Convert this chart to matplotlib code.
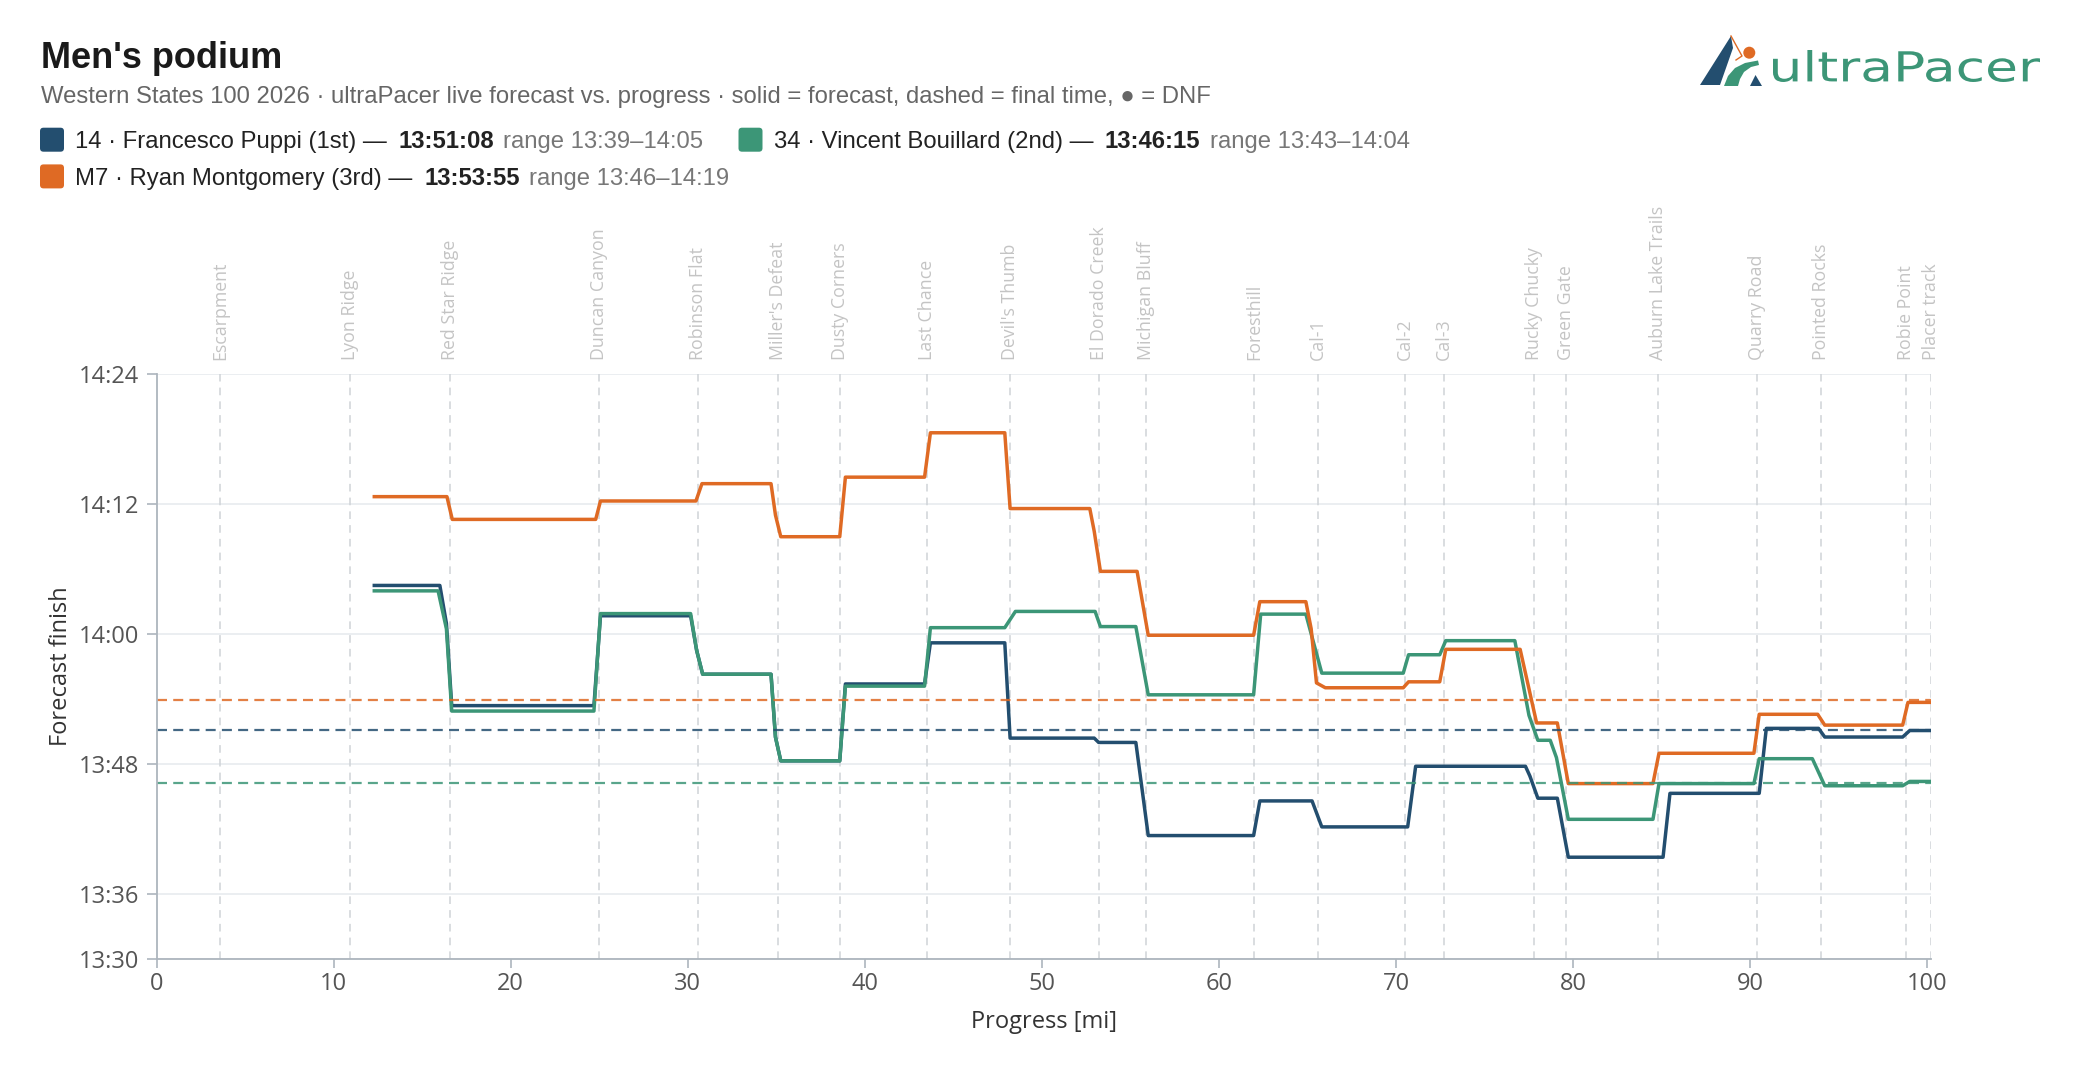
import matplotlib
matplotlib.use("Agg")
import matplotlib.pyplot as plt
from matplotlib.patches import Polygon, Circle, FancyBboxPatch, PathPatch
from matplotlib.textpath import TextPath
from matplotlib.font_manager import FontProperties
from matplotlib.transforms import Affine2D
from matplotlib.ticker import FixedLocator, FuncFormatter

# --------------------------------
# DATA
# --------------------------------
station_names = [
    "Escarpment", "Lyon Ridge", "Red Star Ridge", "Duncan Canyon", "Robinson Flat",
    "Miller's Defeat", "Dusty Corners", "Last Chance", "Devil's Thumb", "El Dorado Creek",
    "Michigan Bluff", "Foresthill", "Cal-1", "Cal-2", "Cal-3", "Rucky Chucky",
    "Green Gate", "Auburn Lake Trails", "Quarry Road", "Pointed Rocks", "Robie Point",
    "Placer track",
]
station_mi = [3.6, 10.9, 16.6, 25.0, 30.6, 35.1, 38.6, 43.5, 48.2, 53.2, 55.9, 62.0,
              65.6, 70.5, 72.7, 77.8, 79.6, 84.8, 90.4, 94.0, 98.8, 100.2]

runner_bibs = ["14", "34", "M7"]
runner_names = ["Francesco Puppi (1st)", "Vincent Bouillard (2nd)", "Ryan Montgomery (3rd)"]
runner_finals = ["13:51:08", "13:46:15", "13:53:55"]
runner_ranges = ["13:39\u201314:05", "13:43\u201314:04", "13:46\u201314:19"]
runner_colours = ["#234e6f", "#3c9677", "#df6a24"]

# forecast finish, minutes after midnight, against progress in miles
puppi_mi = [12.2, 16.0, 16.37, 16.67, 24.7, 25.07, 30.16, 30.5, 30.84, 34.7,
            34.95, 35.25, 38.58, 38.9, 43.37, 43.7, 47.9, 48.2, 52.95, 53.2,
            55.3, 56.0, 61.95, 62.3, 65.25, 65.8, 70.65, 71.1, 77.3, 77.55,
            78.0, 79.1, 79.72, 85.07, 85.46, 90.5, 90.9, 93.85, 94.2, 98.6,
            99.0, 100.2]
puppi_fc = [844.5, 844.5, 841.0, 833.4, 833.4, 841.7, 841.7, 838.5, 836.3, 836.3,
            830.5, 828.3, 828.3, 835.4, 835.4, 839.2, 839.2, 830.4, 830.4, 830.0,
            830.0, 821.4, 821.4, 824.6, 824.6, 822.2, 822.2, 827.8, 827.8, 826.9,
            824.85, 824.85, 819.4, 819.4, 825.3, 825.3, 831.3, 831.3, 830.5, 830.5,
            831.1, 831.1]

bouillard_mi = [12.2, 15.9, 16.37, 16.67, 24.7, 25.07, 30.16, 30.5, 30.84, 34.7,
                34.95, 35.25, 38.58, 38.9, 43.37, 43.7, 47.9, 48.5, 53.0, 53.3,
                55.3, 56.0, 61.95, 62.35, 64.9, 65.8, 70.4, 70.7, 72.46, 72.8,
                76.7, 77.5, 78.0, 78.7, 79.05, 79.72, 84.5, 84.84, 90.2, 90.5,
                93.5, 94.2, 98.6, 99.0, 100.2]
bouillard_fc = [844.0, 844.0, 840.5, 832.9, 832.9, 841.9, 841.9, 838.5, 836.3, 836.3,
                830.5, 828.3, 828.3, 835.2, 835.2, 840.6, 840.6, 842.1, 842.1, 840.7,
                840.7, 834.4, 834.4, 841.85, 841.85, 836.4, 836.4, 838.1, 838.1, 839.4,
                839.4, 832.5, 830.2, 830.2, 828.6, 822.9, 822.9, 826.2, 826.2, 828.5,
                828.5, 826.0, 826.0, 826.4, 826.4]

montgomery_mi = [12.2, 16.4, 16.7, 24.8, 25.07, 30.46, 30.8, 34.7, 34.95, 35.25,
                 38.58, 38.9, 43.37, 43.7, 47.9, 48.2, 52.7, 52.95, 53.3, 55.37,
                 56.0, 61.95, 62.3, 64.9, 65.2, 65.5, 66.0, 70.4, 70.7, 72.46,
                 72.8, 77.0, 77.93, 79.1, 79.72, 84.5, 84.84, 90.2, 90.5, 93.8,
                 94.2, 98.6, 98.9, 100.2]
montgomery_fc = [852.7, 852.7, 850.6, 850.6, 852.3, 852.3, 853.9, 853.9, 851.0, 849.0,
                 849.0, 854.5, 854.5, 858.6, 858.6, 851.6, 851.6, 849.5, 845.8, 845.8,
                 839.9, 839.9, 843.0, 843.0, 840.5, 835.5, 835.05, 835.05, 835.6, 835.6,
                 838.6, 838.6, 831.8, 831.8, 826.2, 826.2, 829.0, 829.0, 832.6, 832.6,
                 831.6, 831.6, 833.7, 833.7]

series_mi = [puppi_mi, bouillard_mi, montgomery_mi]
series_fc = [puppi_fc, bouillard_fc, montgomery_fc]

y_ticks = [810, 816, 828, 840, 852, 864]
x_ticks = list(range(0, 101, 10))

# --------------------------------
# STYLE
# --------------------------------
W, H = 2080, 1082
DPI = 100
HEAD_FONT = ["Liberation Sans", "DejaVu Sans"]
AX_FONT = ["Open Sans", "DejaVu Sans"]
AXIS_GREY = "#adb5bd"
HEAD_SIZE = 17.2


def to_minutes(hms):
    parts = [int(p) for p in hms.split(":")]
    while len(parts) < 3:
        parts.append(0)
    return parts[0] * 60 + parts[1] + parts[2] / 60


def fmt_hm(v, pos=None):
    v = int(round(v))
    return f"{v // 60}:{v % 60:02d}"


fig = plt.figure(figsize=(W / DPI, H / DPI), dpi=DPI)
fig.patch.set_facecolor("white")

# pixel transform, origin bottom-left
PX = Affine2D().scale(1 / W, 1 / H) + fig.transFigure


def up(y):
    return H - y


# --------------------------------
# AXES
# --------------------------------
AX_L, AX_R, AX_T, AX_B = 156.5, 1931.0, 374.3, 959.0
ax = fig.add_axes([AX_L / W, 1 - AX_B / H, (AX_R - AX_L) / W, (AX_B - AX_T) / H])
ax.set_xlim(0, 100.2)
ax.set_ylim(810, 864)

for s in ["top", "right"]:
    ax.spines[s].set_visible(False)
for s in ["left", "bottom"]:
    ax.spines[s].set_color(AXIS_GREY)
    ax.spines[s].set_linewidth(1.3)
    ax.spines[s].set_zorder(6)

ax.yaxis.set_major_locator(FixedLocator(y_ticks))
ax.yaxis.set_major_formatter(FuncFormatter(fmt_hm))
ax.xaxis.set_major_locator(FixedLocator(x_ticks))
ax.grid(axis="y", color="#e6e9ed", lw=1.1, zorder=0)
ax.set_axisbelow(True)

ax.tick_params(axis="y", length=7.2, width=1.2, color=AXIS_GREY, pad=5,
               labelsize=17, labelcolor="#555555")
ax.tick_params(axis="x", length=6.5, width=1.2, color=AXIS_GREY, pad=3,
               labelsize=17, labelcolor="#555555")
for lbl in ax.get_xticklabels() + ax.get_yticklabels():
    lbl.set_family(AX_FONT)

# aid stations
for name, mi in zip(station_names, station_mi):
    ax.axvline(mi, color="#cfd3d7", lw=1.1, ls=(0, (5, 4)), zorder=1)
    ax.annotate(name, xy=(mi, 1.0), xycoords=("data", "axes fraction"),
                xytext=(0, 10.3), textcoords="offset points",
                rotation=90, ha="center", va="bottom",
                fontsize=12.8, color="#c4c4c4", family=AX_FONT,
                annotation_clip=False)

# forecasts
for mi, fc, col, z in zip(series_mi, series_fc, runner_colours, [3, 3.1, 3.2]):
    ax.plot(mi, fc, color=col, lw=2.5, solid_joinstyle="round",
            solid_capstyle="butt", zorder=z)

# final times
for fin, col in zip(runner_finals, runner_colours):
    ax.axhline(to_minutes(fin), color=col, lw=1.6, ls=(0, (4.5, 2.8)),
               alpha=0.85, zorder=4)

fig.text(61 / W, 1 - (AX_T + AX_B) / 2 / H, "Forecast finish", rotation=90,
         ha="center", va="center", fontsize=17, color="#333333", family=AX_FONT)
fig.text((AX_L + AX_R) / 2 / W, 1 - 1028 / H, "Progress [mi]", ha="center",
         va="baseline", fontsize=17, color="#333333", family=AX_FONT)

# --------------------------------
# HEADER
# --------------------------------
fig.text(40.7, up(68.3), "Men's podium", transform=PX, fontsize=26,
         weight="bold", color="#1a1a1a", va="baseline", family=HEAD_FONT)
fig.text(40.7, up(103.3),
         "Western States 100 2026 \u00b7 ultraPacer live forecast vs. progress \u00b7 "
         "solid = forecast, dashed = final time, \u25cf = DNF",
         transform=PX, fontsize=HEAD_SIZE, color="#666666", va="baseline", family=HEAD_FONT)

fig.canvas.draw()
renderer = fig.canvas.get_renderer()


def put(x, y, s, **kw):
    t = fig.text(x, up(y), s, transform=PX, va="baseline", fontsize=HEAD_SIZE,
                 family=HEAD_FONT, **kw)
    return x + t.get_window_extent(renderer=renderer).width


def legend_entry(x, y, i):
    sw = FancyBboxPatch((x, up(y - 8.6) - 12), 24, 24,
                        boxstyle="round,pad=0,rounding_size=3.5",
                        transform=PX, facecolor=runner_colours[i], edgecolor="none")
    fig.add_artist(sw)
    xx = put(x + 35, y, f"{runner_bibs[i]} \u00b7 {runner_names[i]} \u2014", color="#222222")
    xx = put(xx + 12, y, runner_finals[i], color="#222222", weight="bold")
    xx = put(xx + 9, y, f"range {runner_ranges[i]}", color="#777777")
    return xx


end1 = legend_entry(40, 148.3, 0)
legend_entry(end1 + 35, 148.3, 1)
legend_entry(40, 185.0, 2)

# --------------------------------
# LOGO
# --------------------------------
def poly(pts, col):
    fig.add_artist(Polygon([(x, up(y)) for x, y in pts], closed=True,
                           transform=PX, facecolor=col, edgecolor="none"))


poly([(1700, 85), (1731, 36), (1733, 48), (1726, 68), (1720, 85)], runner_colours[0])
poly([(1750, 86), (1755.5, 75), (1762, 86)], runner_colours[0])
poly([(1724, 86), (1728, 76), (1735, 68), (1745, 63), (1758, 60.5),
      (1759, 65), (1751, 67), (1744, 72), (1740, 79), (1738, 86)], runner_colours[1])
fig.add_artist(Circle((1749.3, up(52.7)), 6, transform=PX,
                      facecolor=runner_colours[2], edgecolor="none"))
fig.add_artist(plt.Line2D([1731, 1742, 1736], [up(36), up(56), up(60)], transform=PX,
                          color=runner_colours[2], lw=1.0))

tp = TextPath((0, 0), "ultraPacer", size=1,
              prop=FontProperties(family=["DejaVu Sans"], weight="normal"))
bb = tp.get_extents()
sx = (2040 - 1773) / bb.width
sy = (82 - 50) / bb.height
logo_tr = Affine2D().translate(-bb.x0, -bb.y0).scale(sx, sy).translate(1773, up(82)) + PX
fig.add_artist(PathPatch(tp, transform=logo_tr, facecolor=runner_colours[1], edgecolor="none"))

fig.savefig("out.png", dpi=DPI, facecolor="white")
